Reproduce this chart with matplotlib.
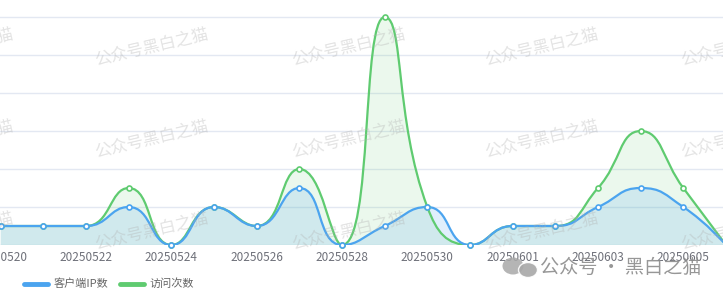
import numpy as np
import matplotlib
matplotlib.use('Agg')
import matplotlib.pyplot as plt
from matplotlib.path import Path
from matplotlib.patches import PathPatch, Ellipse
from matplotlib.lines import Line2D

plt.rcParams['font.family'] = ['Noto Sans CJK SC', 'DejaVu Sans']

# ---- data ----
dates = ['20250520', '20250521', '20250522', '20250523', '20250524', '20250525',
         '20250526', '20250527', '20250528', '20250529', '20250530', '20250531',
         '20250601', '20250602', '20250603', '20250604', '20250605', '20250606']
ip_counts = [1, 1, 1, 2, 0, 2, 1, 3, 0, 1, 2, 0, 1, 1, 2, 3, 2, 0]
visit_counts = [1, 1, 1, 3, 0, 2, 1, 4, 0, 12, 2, 0, 1, 1, 3, 6, 3, 0]
series_names = ['客户端IP数', '访问次数']

BLUE = '#4ba4ef'
GREEN = '#5fcb70'

W, H = 723, 294
fig = plt.figure(figsize=(W / 100, H / 100), dpi=100)
ax = fig.add_axes([0, 49 / H, 1, 245 / H])
x = np.arange(len(dates))
ax.set_xlim(-0.0164, 16.93)
ax.set_ylim(0, 12.9)


def echarts_smooth(ax, xs, ys, smooth=0.5):
    pts = ax.transData.transform(np.column_stack([xs, ys]).astype(float))
    n = len(pts)
    verts = [tuple(pts[0])]
    codes = [Path.MOVETO]
    cpx0, cpy0 = pts[0]
    for i in range(1, n):
        px, py = pts[i - 1]
        x0, y0 = pts[i]
        if i == n - 1:
            cpx1, cpy1 = x0, y0
            ncx, ncy = x0, y0
        else:
            nx, ny = pts[i + 1]
            vx, vy = nx - px, ny - py
            lp = np.hypot(x0 - px, y0 - py)
            ln = np.hypot(nx - x0, ny - y0)
            r = ln / (ln + lp)
            ncx = x0 + vx * smooth * r
            ncy = y0 + vy * smooth * r
            ncx = min(ncx, max(nx, x0)); ncy = min(ncy, max(ny, y0))
            ncx = max(ncx, min(nx, x0)); ncy = max(ncy, min(ny, y0))
            vx, vy = ncx - x0, ncy - y0
            cpx1 = x0 - vx * lp / ln
            cpy1 = y0 - vy * lp / ln
            cpx1 = min(cpx1, max(px, x0)); cpy1 = min(cpy1, max(py, y0))
            cpx1 = max(cpx1, min(px, x0)); cpy1 = max(cpy1, min(py, y0))
            vx, vy = x0 - cpx1, y0 - cpy1
            ncx = x0 + vx * ln / lp
            ncy = y0 + vy * ln / lp
        verts += [(cpx0, cpy0), (cpx1, cpy1), (x0, y0)]
        codes += [Path.CURVE4] * 3
        cpx0, cpy0 = ncx, ncy
    verts = ax.transData.inverted().transform(np.array(verts))
    return list(map(tuple, verts)), codes


def draw_series(vals, color, fill_alpha, z):
    verts, codes = echarts_smooth(ax, x, vals)
    fverts = verts + [(x[-1], 0), (x[0], 0), (x[0], 0)]
    fcodes = codes + [Path.LINETO, Path.LINETO, Path.CLOSEPOLY]
    ax.add_patch(PathPatch(Path(fverts, fcodes), facecolor=color, alpha=fill_alpha,
                           edgecolor='none', zorder=z))
    ax.add_patch(PathPatch(Path(verts, codes), facecolor='none', edgecolor=color,
                           lw=1.6, zorder=z + 2, capstyle='round', joinstyle='round'))
    ax.plot(x, vals, linestyle='none', marker='o', markersize=3.6, markeredgewidth=1.2,
            markerfacecolor='white', markeredgecolor=color, zorder=z + 3, clip_on=False)


draw_series(visit_counts, GREEN, 0.12, 1)
draw_series(ip_counts, BLUE, 0.17, 1.5)

ax.set_yticks(range(0, 13, 2))
ax.yaxis.grid(True, color='#e3e8f2', lw=1)
ax.set_axisbelow(True)
for s in ax.spines.values():
    s.set_visible(False)
ax.tick_params(axis='y', left=False, labelleft=False)
ax.set_xticks(x[::2])
ax.set_xticklabels(dates[::2])
ax.tick_params(axis='x', length=0, pad=4, labelsize=8.5, labelcolor='#6e7079')

handles = [Line2D([], [], color=BLUE, lw=3.5, solid_capstyle='round'),
           Line2D([], [], color=GREEN, lw=3.5, solid_capstyle='round')]
fig.legend(handles, series_names, loc='center left', bbox_to_anchor=(24 / W, 1 - 284 / H),
           ncol=2, frameon=False, fontsize=8, handlelength=2.2, handletextpad=0.5,
           columnspacing=1.0, borderaxespad=0, borderpad=0, labelcolor='#666666')

# watermarks
for cx in [-44, 151, 348, 541, 737]:
    for cy in [47, 139, 231]:
        fig.text(cx / W, 1 - cy / H, '公众号黑白之猫', fontsize=12, color='#b0b0b0',
                 alpha=0.35, rotation=13, ha='center', va='center', rotation_mode='anchor',
                 zorder=10)

fig.add_artist(Ellipse((513 / W, 1 - 266 / H), 21 / W, 17 / H, transform=fig.transFigure,
                       facecolor='#a8a8a8', edgecolor='none', alpha=0.85, zorder=11))
fig.add_artist(Ellipse((528 / W, 1 - 270 / H), 19 / W, 15 / H, transform=fig.transFigure,
                       facecolor='#a8a8a8', edgecolor='white', lw=1, alpha=0.9, zorder=12))
fig.text(540 / W, 1 - 267 / H, '公众号 · 黑白之猫', fontsize=13.8, color='#8c8c8c', alpha=0.9,
         ha='left', va='center', zorder=12)

fig.savefig('out.png', dpi=100)
